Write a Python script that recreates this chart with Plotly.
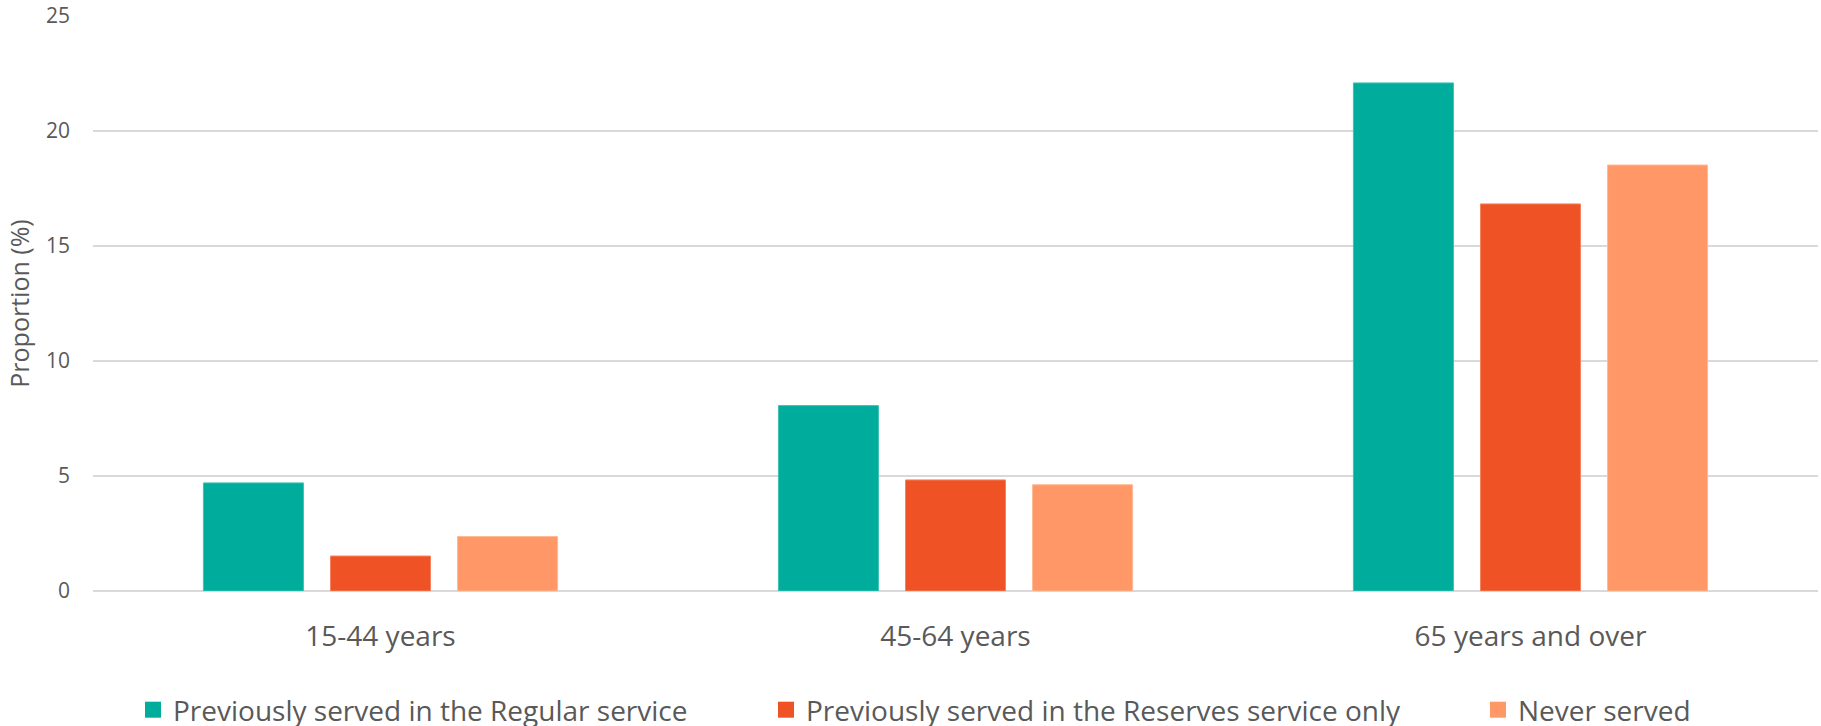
import plotly.graph_objects as go

categories = ["15-44 years", "45-64 years", "65 years and over"]
series_names = [
    "Previously served in the Regular service",
    "Previously served in the Reserves service only",
    "Never served",
]
regular = [4.70, 8.06, 22.09]
reserves = [1.52, 4.83, 16.83]
never = [2.37, 4.62, 18.52]
y_ticks = [0, 5, 10, 15, 20, 25]

colors = ["#00AC9C", "#EF5325", "#FF9766"]
edge_colors = ["#3DC1B3", "#F5835F", "#FFB995"]

FONT = "Open Sans"
GREY = "#595959"

fig = go.Figure()
for name, vals, col, edge in zip(series_names, [regular, reserves, never], colors, edge_colors):
    fig.add_trace(go.Bar(
        x=categories, y=vals, name=name,
        marker=dict(color=col, line=dict(color=edge, width=1)),
        showlegend=False, legendgroup=name,
    ))

legend_ids = ["legend", "legend2", "legend3"]
for name, col, lid in zip(series_names, colors, legend_ids):
    fig.add_trace(go.Scatter(
        x=[None], y=[None], mode="markers", name=name,
        marker=dict(symbol="square", size=16, color=col),
        legendgroup=name, showlegend=True, legend=lid,
    ))

W, H = 1821, 726
ml, mr, mt, mb = 93, 3, 16, 135
pw = W - ml - mr
ph = H - mt - mb

def px_to_paper_x(px):
    return (px - ml) / pw

def py_to_paper_y(py):
    return (H - mb - py) / ph

leg_common = dict(
    orientation="h", yanchor="middle", xanchor="left",
    font=dict(family=FONT, size=28, color=GREY),
    bgcolor="rgba(0,0,0,0)", itemsizing="trace",
)
legend_left_px = [133, 766, 1478]
legend_mid_py = 710

fig.update_layout(
    width=W, height=H,
    margin=dict(l=ml, r=mr, t=mt, b=mb, autoexpand=False),
    paper_bgcolor="white", plot_bgcolor="white",
    barmode="group", bargap=0.337, bargroupgap=0.213,
    font=dict(family=FONT, color=GREY),
    legend=dict(x=px_to_paper_x(legend_left_px[0]), y=py_to_paper_y(legend_mid_py), **leg_common),
    legend2=dict(x=px_to_paper_x(legend_left_px[1]), y=py_to_paper_y(legend_mid_py), **leg_common),
    legend3=dict(x=px_to_paper_x(legend_left_px[2]), y=py_to_paper_y(legend_mid_py), **leg_common),
    xaxis=dict(
        showgrid=False, showline=False, zeroline=False,
        ticks="", tickfont=dict(family=FONT, size=28, color=GREY),
        ticklabelstandoff=26,
    ),
    yaxis=dict(
        range=[0, 25], tickvals=y_ticks, ticktext=[str(v) for v in y_ticks],
        showgrid=True, gridcolor="#D9D9D9", gridwidth=1.5,
        zeroline=True, zerolinecolor="#D9D9D9", zerolinewidth=2,
        showline=False, ticks="",
        tickfont=dict(family=FONT, size=21, color=GREY),
        ticklabelstandoff=22, ticklabeloverflow="allow",
        title=dict(text="Proportion (%)", font=dict(family=FONT, size=25, color=GREY), standoff=9),
    ),
)

fig.write_html(
    "out.html",
    config={"displayModeBar": False},
    post_script="document.body.style.margin='0px';",
)
